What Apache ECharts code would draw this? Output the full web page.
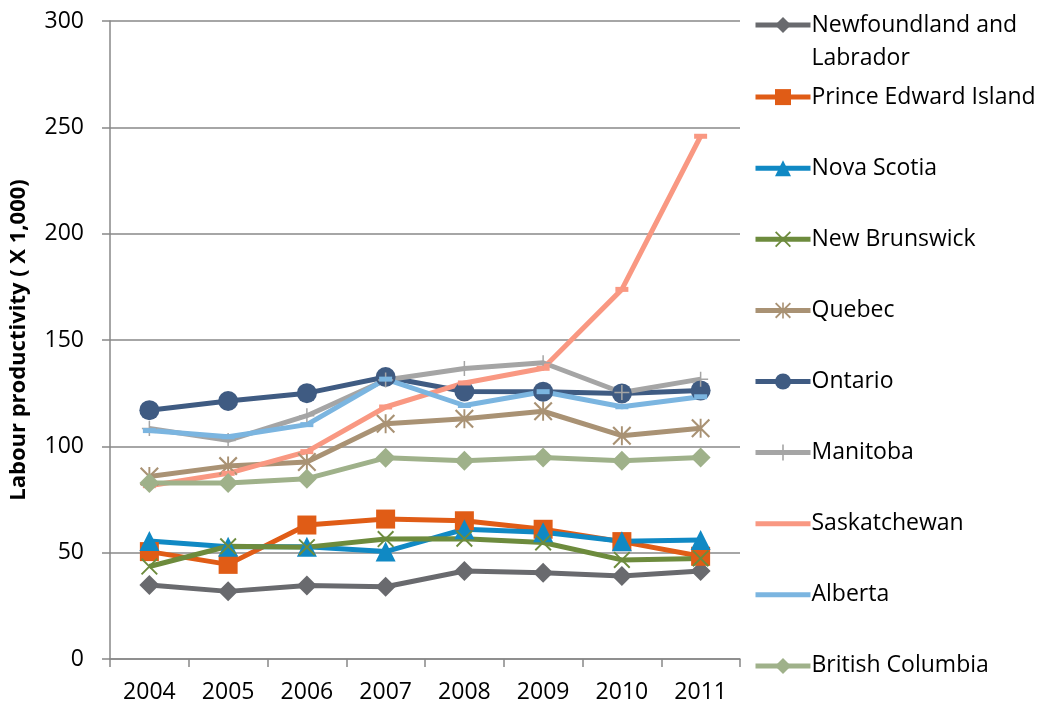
<!DOCTYPE html>
<html>
<head>
<meta charset="utf-8">
<script src="https://cdn.jsdelivr.net/npm/echarts@6/dist/echarts.min.js"></script>
<style>
  html, body { margin: 0; padding: 0; background: #fff; }
  #chart { width: 1041px; height: 706px; }
</style>
</head>
<body>
<div id="chart"></div>
<script>
const years = ["2004", "2005", "2006", "2007", "2008", "2009", "2010", "2011"];

const newfoundland = [34.8, 31.8, 34.6, 34.0, 41.4, 40.5, 39.0, 41.4];
const princeEdward = [50.5, 44.5, 63.0, 65.8, 65.0, 61.0, 55.2, 48.3];
const novaScotia = [55.5, 52.8, 52.8, 50.5, 61.0, 59.6, 55.4, 56.0];
const newBrunswick = [43.5, 53.0, 52.6, 56.4, 56.6, 54.8, 46.6, 47.3];
const quebec = [85.8, 90.7, 92.6, 110.6, 113.0, 116.5, 105.0, 108.5];
const ontario = [117.0, 121.3, 125.0, 132.6, 125.8, 125.7, 124.9, 126.3];
const manitoba = [108.4, 102.8, 114.4, 131.2, 136.6, 139.3, 125.3, 131.6];
const saskatchewan = [81.5, 87.3, 97.5, 118.5, 129.8, 136.7, 173.8, 245.8];
const alberta = [107.4, 104.5, 110.2, 131.6, 119.2, 125.7, 118.6, 123.3];
const britishColumbia = [82.8, 82.8, 84.8, 94.6, 93.2, 94.8, 93.2, 94.8];

const yTicks = { min: 0, max: 300, interval: 50 };

const crossPath = "path://M0,1.6L1.6,0L20,18.4L18.4,20Z M18.4,0L20,1.6L1.6,20L0,18.4Z";
const starPath = "path://M0,1.6L1.6,0L20,18.4L18.4,20Z M18.4,0L20,1.6L1.6,20L0,18.4Z M9,0L11,0L11,20L9,20Z";
const plusPath = "path://M9,0L11,0L11,20L9,20Z M0,9L20,9L20,11L0,11Z";

const seriesDefs = [
  { name: "Newfoundland and Labrador", data: newfoundland, color: "#696a6e", symbol: "diamond", size: 20 },
  { name: "Prince Edward Island", data: princeEdward, color: "#e05c16", symbol: "rect", size: 19 },
  { name: "Nova Scotia", data: novaScotia, color: "#1089c4", symbol: "triangle", size: 20 },
  { name: "New Brunswick", data: newBrunswick, color: "#6d8b3d", symbol: crossPath, size: 17 },
  { name: "Quebec", data: quebec, color: "#a99274", symbol: starPath, size: 19 },
  { name: "Ontario", data: ontario, color: "#3f5b82", symbol: "circle", size: 20 },
  { name: "Manitoba", data: manitoba, color: "#a5a5a5", symbol: plusPath, size: 15 },
  { name: "Saskatchewan", data: saskatchewan, color: "#f99882", symbol: "rect", size: [13, 5], noLegendMark: true },
  { name: "Alberta", data: alberta, color: "#7bb5e0", symbol: "rect", size: [13, 5], noLegendMark: true },
  { name: "British Columbia", data: britishColumbia, color: "#9fb18a", symbol: "diamond", size: 20 },
];

const font = "'Open Sans', 'Noto Sans', sans-serif";

const chart = echarts.init(document.getElementById("chart"));

const legends = seriesDefs.map((s, i) => {
  const first = i === 0;
  return {
    orient: "vertical",
    left: 753,
    top: first ? 25 - 49.5 : 26 + i * 71.1 - 16.5,
    padding: 0,
    itemWidth: 55,
    itemHeight: 20,
    itemGap: 0,
    selectedMode: false,
    data: [s.noLegendMark ? { name: s.name, itemStyle: { opacity: 0 } } : s.name],
    formatter: first ? () => "\nNewfoundland and\nLabrador" : undefined,
    lineStyle: { width: 5 },
    textStyle: {
      fontFamily: font,
      fontSize: 23,
      color: "#000",
      lineHeight: 33,
      padding: [0, 0, 0, -4],
    },
  };
});

const option = {
  animation: false,
  textStyle: { fontFamily: font },
  grid: { left: 110, top: 21, width: 630, height: 638, containLabel: false, outerBoundsMode: "none" },
  legend: legends,
  xAxis: {
    type: "category",
    data: years,
    boundaryGap: true,
    axisLine: { lineStyle: { color: "#888", width: 1.5 } },
    axisTick: { show: true, length: 8, lineStyle: { color: "#888", width: 1.5 } },
    axisLabel: { fontFamily: font, fontSize: 23, color: "#000", margin: 22 },
  },
  yAxis: {
    type: "value",
    min: yTicks.min,
    max: yTicks.max,
    interval: yTicks.interval,
    name: "Labour productivity ( X 1,000)",
    nameLocation: "middle",
    nameGap: 80,
    nameMoveOverlap: false,
    nameTextStyle: { fontFamily: font, fontSize: 22, fontWeight: "bold", color: "#000" },
    axisLine: { show: true, lineStyle: { color: "#888", width: 1.5 } },
    axisTick: { show: true, length: 8, lineStyle: { color: "#888", width: 1.5 } },
    axisLabel: { fontFamily: font, fontSize: 23, color: "#000", margin: 26 },
    splitLine: { show: true, lineStyle: { color: "#888", width: 1.5 } },
  },
  series: seriesDefs.map((s) => ({
    name: s.name,
    type: "line",
    data: s.data,
    symbol: s.symbol,
    symbolSize: s.size,
    showAllSymbol: true,
    lineStyle: { color: s.color, width: 5 },
    itemStyle: { color: s.color, opacity: 1 },
    emphasis: { disabled: true },
  })),
};

chart.setOption(option);
</script>
</body>
</html>
